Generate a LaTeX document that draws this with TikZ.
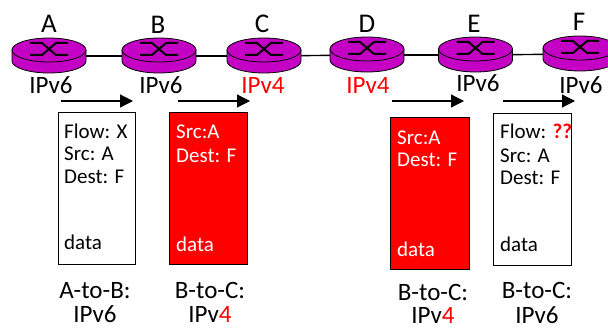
\documentclass[tikz,border=0pt]{standalone}
\usepackage{fontspec}
\setmainfont{Carlito}
\usetikzlibrary{arrows.meta}
\definecolor{routerfill}{RGB}{196,0,196}
\tikzset{
    body/.style={inner sep=0pt, minimum width=74pt, minimum height=24pt},
    txt/.style={inner sep=0pt, anchor=base, font=\fontsize{25}{25}\selectfont},
    nametxt/.style={txt, font=\fontsize{27}{27}\selectfont},
    pkt/.style={inner sep=0pt, anchor=base west, font=\fontsize{21}{21}\selectfont},
    captxt/.style={txt, font=\fontsize{25}{25}\selectfont},
    hop/.style={-{Triangle[length=13pt, width=13pt]}, line width=1.2pt},
    frame/.style={draw, line width=0.8pt, anchor=north west, inner sep=0pt},
}
\begin{document}
\begin{tikzpicture}[x=1pt, y=-1pt]
    \useasboundingbox (0,0) rectangle (608,329);
    % routers
    \foreach \r/\x/\y in {A/49/56, B/159/56, C/264/56, D/367/55, E/475.5/55, F/580/54} {
        \node[body] (r\r) at (\x, \y) {};
        \fill[routerfill] (\x-37, \y-6) -- (\x-37, \y+5)
            arc[start angle=180, end angle=360, x radius=37pt, y radius=12pt] -- (\x+37, \y-6) -- cycle;
        \draw[line width=0.8pt] (\x-37, \y-6) -- (\x-37, \y+5)
            arc[start angle=180, end angle=360, x radius=37pt, y radius=12pt] -- (\x+37, \y-6);
        \draw[line width=0.8pt, fill=routerfill] (\x, \y-6) ellipse[x radius=37pt, y radius=12pt];
        \draw[line width=2pt] (\x-19, \y-13) -- (\x-7, \y-13) -- (\x+7, \y-1) -- (\x+19, \y-1);
        \draw[line width=2pt] (\x-19, \y-1) -- (\x-7, \y-1) -- (\x+7, \y-13) -- (\x+19, \y-13);
    };
    % links
    \draw[line width=1.4pt] (rA) -- (rB);
    \draw[line width=1.4pt] (rB) -- (rC);
    \draw[line width=1.4pt] (rC) -- (rD);
    \draw[line width=1.4pt] (rD) -- (rE);
    \draw[line width=1.4pt] (rE) -- (rF);
    % names
    \node[nametxt] (nameA) at (49, 33) {A};
    \node[nametxt] (nameB) at (158, 34) {B};
    \node[nametxt] (nameC) at (262, 33) {C};
    \node[nametxt] (nameD) at (367, 33) {D};
    \node[nametxt] (nameE) at (474, 33) {E};
    \node[nametxt] (nameF) at (579, 31) {F};
    % versions
    \node[txt] (verA) at (51, 93) {IPv6};
    \node[txt] (verB) at (161, 93) {IPv6};
    \node[txt, red] (verC) at (263, 94) {IPv4};
    \node[txt, red] (verD) at (368, 94) {IPv4};
    \node[txt] (verE) at (478, 92) {IPv6};
    \node[txt] (verF) at (581, 93) {IPv6};
    % hops
    \foreach \h/\x in {a/61, b/178, c/392, d/503} {
        \coordinate (from\h) at (\x, 101);
        \coordinate (to\h) at (\x+72, 101);
        \draw[hop] (from\h) -- (to\h);
    };
    % packets
    \node[frame, minimum width=77pt, minimum height=152pt] (pktA) at (57.5, 112) {};
    \node[frame, fill=red, minimum width=78pt, minimum height=152pt] (pktB) at (169, 112) {};
    \node[frame, fill=red, minimum width=79pt, minimum height=152pt] (pktC) at (390, 117) {};
    \node[frame, minimum width=78pt, minimum height=152pt] (pktD) at (493, 113) {};

    \node[pkt] (flowA) at (64, 138) {Flow: X};
    \node[pkt] (srcA) at (64, 160) {Src: A};
    \node[pkt] (destA) at (64, 183) {Dest: F};
    \node[pkt] (dataA) at (64, 249) {data};

    \node[pkt, white] (srcB) at (176, 139) {Src:A};
    \node[pkt, white] (destB) at (176, 162) {Dest: F};
    \node[pkt, white] (dataB) at (176, 251) {data};

    \node[pkt, white] (srcC) at (397, 144) {Src:A};
    \node[pkt, white] (destC) at (397, 166) {Dest: F};
    \node[pkt, white] (dataC) at (397, 256) {data};

    \node[pkt] (flowD) at (500, 139) {Flow: \textcolor{red}{\textbf{??}}};
    \node[pkt] (srcD) at (500, 162) {Src: A};
    \node[pkt] (destD) at (500, 184) {Dest: F};
    \node[pkt] (dataD) at (500, 251) {data};
    % captions
    \node[captxt] (hopA) at (95, 298) {A-to-B:};
    \node[captxt] (linkA) at (95, 322) {IPv6};
    \node[captxt] (hopB) at (210, 298) {B-to-C:};
    \node[captxt] (linkB) at (210, 322) {IPv\textcolor{red}{4}};
    \node[captxt] (hopC) at (433, 300) {B-to-C:};
    \node[captxt] (linkC) at (433, 323) {IPv\textcolor{red}{4}};
    \node[captxt] (hopD) at (537, 298) {B-to-C:};
    \node[captxt] (linkD) at (537, 323) {IPv6};
\end{tikzpicture}
\end{document}
